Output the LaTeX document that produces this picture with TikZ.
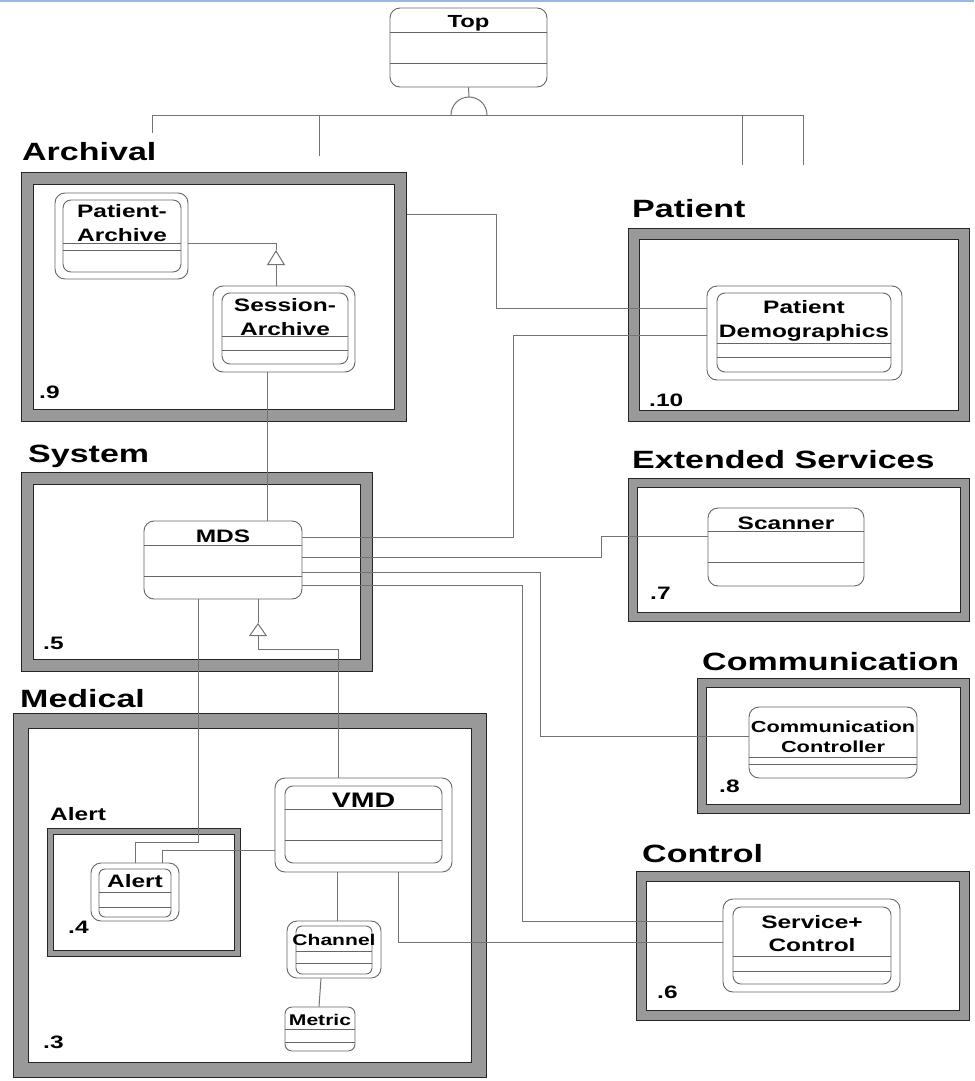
\documentclass[tikz,border=0pt]{standalone}
\usepackage{fontspec}
\newfontfamily\umlfont{Liberation Sans}[FakeStretch=1.36]
\usetikzlibrary{arrows.meta}
\definecolor{rimblue}{RGB}{150,185,228}

\begin{document}
\begin{tikzpicture}[x=1pt, y=-1pt,
  wire/.style={draw=black!55, line width=1pt},
  gen/.style={wire, -{Triangle[open, width=18pt, length=#1]}},
  pkg/.style={draw=black!85, line width=1pt, double=black!40, double distance=#1,
    fill=white, outer sep=0.5*#1+1pt},
  umlclass/.style={draw=black!60, line width=0.9pt, fill=white, rounded corners=10pt, inner sep=0pt},
  umlinner/.style={draw=black!60, line width=0.9pt, rounded corners=8pt, inner sep=0pt},
  divider/.style={draw=black!60, line width=0.9pt},
  heading/.style={font=\umlfont\bfseries\fontsize{25}{30}\selectfont, anchor=base west, inner sep=0pt},
  pkgnum/.style={font=\umlfont\bfseries\fontsize{18}{22}\selectfont, anchor=base west, inner sep=0pt},
  classname/.style={font=\umlfont\bfseries\fontsize{18}{23.5}\selectfont, anchor=base, inner sep=0pt, align=center}]
  \useasboundingbox (0,0) rectangle (974,1081);
  \draw[rimblue, line width=2pt] (0,1) -- (974,1);
  % packages
  \node[pkg=11pt, minimum width=373, minimum height=237] (ARC) at (214,297) {};
  \node[pkg=10pt, minimum width=330, minimum height=182] (PAT) at (799,325) {};
  \node[pkg=11pt, minimum width=339, minimum height=187] (SYS) at (197,572) {};
  \node[pkg=8pt, minimum width=332, minimum height=134] (EXT) at (799,550) {};
  \node[pkg=8pt, minimum width=263, minimum height=126] (COM) at (833.5,746) {};
  \node[pkg=9pt, minimum width=323, minimum height=139] (CTL) at (803,946) {};
  \node[pkg=14pt, minimum width=458, minimum height=349] (MED) at (250,895.5) {};
  \node[pkg=5pt, minimum width=187, minimum height=122] (ALP) at (144,892.5) {};
  \node[heading] (ARCh) at (22,160) {Archival};
  \node[heading] (PATh) at (632,217) {Patient};
  \node[heading] (SYSh) at (28,462) {System};
  \node[heading] (EXTh) at (632,468) {Extended Services};
  \node[heading] (COMh) at (702,670) {Communication};
  \node[heading] (CTLh) at (642,862) {Control};
  \node[heading] (MEDh) at (20,707) {Medical};
  \node[pkgnum] (ALPh) at (50,820) {Alert};
  \node[pkgnum] (ARCn) at (39,398) {.9};
  \node[pkgnum] (PATn) at (649,406) {.10};
  \node[pkgnum] (SYSn) at (43,649) {.5};
  \node[pkgnum] (EXTn) at (650,599) {.7};
  \node[pkgnum] (COMn) at (719,792) {.8};
  \node[pkgnum] (CTLn) at (657,998) {.6};
  \node[pkgnum] (MEDn) at (43,1048) {.3};
  \node[pkgnum] (ALPn) at (68,933) {.4};
  % classes
  \node[umlclass, minimum width=157, minimum height=79] (TOP) at (468.5,47.5) {};
  \draw[divider] (TOP.west |- 0,32) -- (TOP.east |- 0,32);
  \draw[divider] (TOP.west |- 0,63) -- (TOP.east |- 0,63);
  \node[classname, font=\umlfont\bfseries\fontsize{17.5}{22}\selectfont] (TOPt) at (468.5,28) {Top};

  \node[umlclass, minimum width=133, minimum height=86] (PA) at (121.5,236) {};
  \node[umlinner, minimum width=118, minimum height=72] (PAi) at (122,236) {};
  \draw[divider] (PAi.west |- 0,243) -- (PAi.east |- 0,243);
  \draw[divider] (PAi.west |- 0,250) -- (PAi.east |- 0,250);
  \node[classname] (PAt) at (122,241) {Patient-\\Archive};

  \node[umlclass, minimum width=142, minimum height=86] (SA) at (284,329) {};
  \node[umlinner, minimum width=126, minimum height=71] (SAi) at (285,328.5) {};
  \draw[divider] (SAi.west |- 0,336) -- (SAi.east |- 0,336);
  \draw[divider] (SAi.west |- 0,350) -- (SAi.east |- 0,350);
  \node[classname] (SAt) at (285,335) {Session-\\Archive};

  \node[umlclass, minimum width=195, minimum height=94] (PD) at (804.5,333) {};
  \node[umlinner, minimum width=174, minimum height=79] (PDi) at (804,332.5) {};
  \draw[divider] (PDi.west |- 0,343) -- (PDi.east |- 0,343);
  \draw[divider] (PDi.west |- 0,357) -- (PDi.east |- 0,357);
  \node[classname] (PDt) at (804,337) {Patient\\Demographics};

  \node[umlclass, minimum width=158, minimum height=78] (MDS) at (223,560) {};
  \draw[divider] (MDS.west |- 0,545) -- (MDS.east |- 0,545);
  \draw[divider] (MDS.west |- 0,576) -- (MDS.east |- 0,576);
  \node[classname] (MDSt) at (223,542) {MDS};

  \node[umlclass, minimum width=156, minimum height=78] (SCN) at (786,547) {};
  \draw[divider] (SCN.west |- 0,531) -- (SCN.east |- 0,531);
  \draw[divider] (SCN.west |- 0,562) -- (SCN.east |- 0,562);
  \node[classname] (SCNt) at (786,529) {Scanner};

  \node[umlclass, minimum width=168, minimum height=71] (CC) at (833,742.5) {};
  \draw[divider] (CC.west |- 0,757) -- (CC.east |- 0,757);
  \draw[divider] (CC.west |- 0,764) -- (CC.east |- 0,764);
  \node[classname, font=\umlfont\bfseries\fontsize{16}{20}\selectfont] (CCt) at (833,752) {Communication\\Controller};

  \node[umlclass, minimum width=177, minimum height=93] (SC) at (811.5,945.5) {};
  \node[umlinner, minimum width=158, minimum height=77] (SCi) at (812,945.5) {};
  \draw[divider] (SCi.west |- 0,956) -- (SCi.east |- 0,956);
  \draw[divider] (SCi.west |- 0,971) -- (SCi.east |- 0,971);
  \node[classname, font=\umlfont\bfseries\fontsize{18}{23}\selectfont] (SCt) at (812,951) {Service+\\Control};

  \node[umlclass, minimum width=177, minimum height=94] (VMD) at (363.5,825) {};
  \node[umlinner, minimum width=157, minimum height=77] (VMDi) at (363.5,824.5) {};
  \draw[divider] (VMDi.west |- 0,809) -- (VMDi.east |- 0,809);
  \draw[divider] (VMDi.west |- 0,840) -- (VMDi.east |- 0,840);
  \node[classname, font=\umlfont\bfseries\fontsize{21}{25}\selectfont] (VMDt) at (363.5,807) {VMD};

  \node[umlclass, minimum width=88, minimum height=58] (AL) at (135,892) {};
  \node[umlinner, rounded corners=6pt, minimum width=72, minimum height=48] (ALi) at (135,893) {};
  \draw[divider] (ALi.west |- 0,892) -- (ALi.east |- 0,892);
  \draw[divider] (ALi.west |- 0,907) -- (ALi.east |- 0,907);
  \node[classname] (ALt) at (135,887) {Alert};

  \node[umlclass, minimum width=94, minimum height=57] (CH) at (334,949.5) {};
  \node[umlinner, rounded corners=6pt, minimum width=76, minimum height=48] (CHi) at (334,950) {};
  \draw[divider] (CHi.west |- 0,951) -- (CHi.east |- 0,951);
  \draw[divider] (CHi.west |- 0,963) -- (CHi.east |- 0,963);
  \node[classname, font=\umlfont\bfseries\fontsize{15.5}{20}\selectfont] (CHt) at (334,945) {Channel};

  \node[umlclass, rounded corners=7pt, minimum width=70, minimum height=44] (MT) at (320,1029) {};
  \draw[divider] (MT.west |- 0,1029) -- (MT.east |- 0,1029);
  \draw[divider] (MT.west |- 0,1042) -- (MT.east |- 0,1042);
  \node[classname, font=\umlfont\bfseries\fontsize{15.5}{20}\selectfont] (MTt) at (320,1025) {Metric};

  % containment of the packages in Top
  \coordinate (joint) at (469,115);
  \coordinate (toARC) at (152,133);
  \coordinate (toSYS) at (319,156);
  \coordinate (toEXT) at (742,165);
  \coordinate (toCOM) at (803,165);
  \draw[wire] (TOP.south) -- (469,97);
  \draw[wire] (joint) ++(-18,0) arc[start angle=180, end angle=360, radius=18];
  \draw[wire] (toARC) |- (toCOM |- joint) -- (toCOM);
  \draw[wire] (toSYS |- joint) -- (toSYS);
  \draw[wire] (toEXT |- joint) -- (toEXT);
  % generalizations
  \draw[wire] (PA.east |- 0,243) -| (276,250);
  \draw[gen=15pt] (SA.north -| 276,0) -- (276,250);
  \draw[wire] (MDS.south -| 258,0) -- (258,623);
  \draw[gen=13pt] (VMD.north -| 338,0) |- (258,649) -- (258,623);
  % associations
  \draw[wire] (SA.south -| 267,0) -- (MDS.north -| 267,0);
  \draw[wire] (ARC.east |- 0,214) -| (496,308) -- (PD.west |- 0,308);
  \draw[wire] (MDS.east |- 0,537) -| (513,335) -- (PD.west |- 0,335);
  \draw[wire] (MDS.east |- 0,557) -| (601,536) -- (SCN.west |- 0,536);
  \draw[wire] (MDS.east |- 0,572) -| (540,736) -- (CC.west |- 0,736);
  \draw[wire] (MDS.east |- 0,585) -| (522,921) -- (SC.west |- 0,921);
  \draw[wire] (MDS.south -| 198,0) |- (135,842) -- (AL.north);
  \draw[wire] (VMD.west |- 0,850) -| (AL.north -| 162,0);
  \draw[wire] (VMD.south -| 337,0) -- (CH.north -| 337,0);
  \draw[wire] (VMD.south -| 398,0) |- (SC.west |- 0,942);
  \draw[wire] (CH.south -| 321,0) -- (MT.north -| 319,0);
\end{tikzpicture}
\end{document}
